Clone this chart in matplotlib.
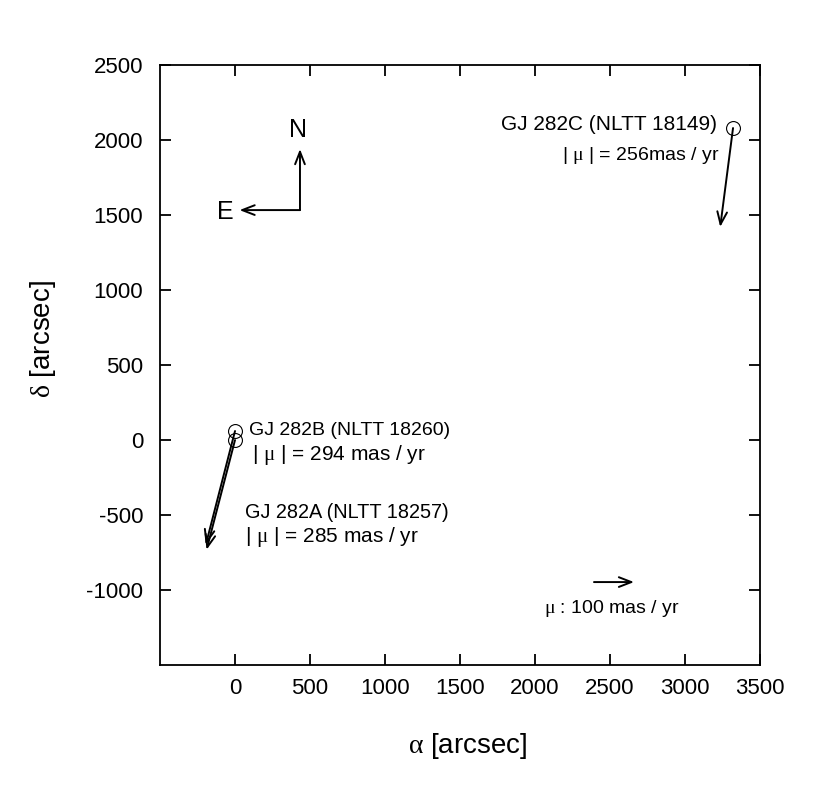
import matplotlib
matplotlib.use("Agg")
import matplotlib.pyplot as plt
import numpy as np

plt.rcParams['font.family'] = ['Liberation Sans', 'DejaVu Sans']
plt.rcParams['axes.unicode_minus'] = False
plt.rcParams['mathtext.fontset'] = 'custom'
plt.rcParams['mathtext.rm'] = 'Liberation Serif'
plt.rcParams['mathtext.it'] = 'Liberation Serif:italic'

# star positions [arcsec] relative to GJ 282A
names = ["GJ 282A (NLTT 18257)", "GJ 282B (NLTT 18260)", "GJ 282C (NLTT 18149)"]
ra = [0, 0, 3320]
dec = [0, 60, 2080]
# proper motions [mas/yr]
pm_ra = [-71, -73, -32]
pm_dec = [-274, -284, -247]
pm_tot = ["285 mas / yr", "294 mas / yr", "256mas / yr"]

scale = 2.67  # arcsec drawn per mas/yr
ref_pm = 100

MU = r"$\mathrm{\mu}$"


def main():
    fig = plt.figure(figsize=(8.3, 8.02), dpi=100)
    ax = fig.add_axes([0.1928, 0.1708, 0.7229, 0.7481])

    arrow = dict(arrowstyle='->,head_length=0.9,head_width=0.35', color='k', lw=1.4,
                 shrinkA=0, shrinkB=0)

    for i in range(len(names)):
        x0, y0 = ra[i], dec[i]
        x1 = x0 + pm_ra[i] * scale
        y1 = y0 + pm_dec[i] * scale
        ax.annotate('', xy=(x1, y1), xytext=(x0, y0), arrowprops=arrow)
    ax.plot(ra, dec, 'o', ms=10, mfc='none', mec='k', mew=0.8, zorder=5)

    # labels
    ax.text(3210, 2105, names[2], fontsize=15, ha='right', va='center')
    ax.text(3230, 1895, "| " + MU + " | = " + pm_tot[2], fontsize=14, ha='right', va='center')
    ax.text(90, 65, names[1], fontsize=14, ha='left', va='center')
    ax.text(110, -100, "| " + MU + " | = " + pm_tot[1], fontsize=15, ha='left', va='center')
    ax.text(65, -480, names[0], fontsize=14.3, ha='left', va='center')
    ax.text(65, -645, "| " + MU + " | = " + pm_tot[0], fontsize=15, ha='left', va='center')

    # reference arrow
    ax.annotate('', xy=(2393 + ref_pm * scale, -947), xytext=(2393, -947), arrowprops=arrow)
    ax.text(2510, -1125, MU + " : 100 mas / yr", fontsize=14, ha='center', va='center')

    # compass
    ax.annotate('', xy=(433, 1940), xytext=(433, 1533), arrowprops=arrow)
    ax.annotate('', xy=(30, 1533), xytext=(433, 1533), arrowprops=arrow)
    ax.text(420, 2070, "N", fontsize=18, ha='center', va='center')
    ax.text(-65, 1520, "E", fontsize=18, ha='center', va='center')

    ax.set_xlim(-500, 3500)
    ax.set_ylim(-1500, 2500)
    ax.set_xticks(np.arange(0, 3501, 500))
    ax.set_yticks(np.arange(-1000, 2501, 500))
    ax.tick_params(direction='in', length=8, width=1.3, top=True, right=True,
                   labelsize=16)
    ax.tick_params(axis='x', pad=9)
    ax.tick_params(axis='y', pad=12)
    for s in ax.spines.values():
        s.set_linewidth(1.3)

    ax.set_xlabel(r"$\mathrm{\alpha}$ [arcsec]", fontsize=20)
    ax.set_ylabel(r"$\mathrm{\delta}$ [arcsec]", fontsize=20)
    ax.xaxis.set_label_coords(0.513, -0.11)
    ax.yaxis.set_label_coords(-0.17, 0.543)

    fig.savefig("out.png", dpi=100)


if __name__ == "__main__":
    main()
